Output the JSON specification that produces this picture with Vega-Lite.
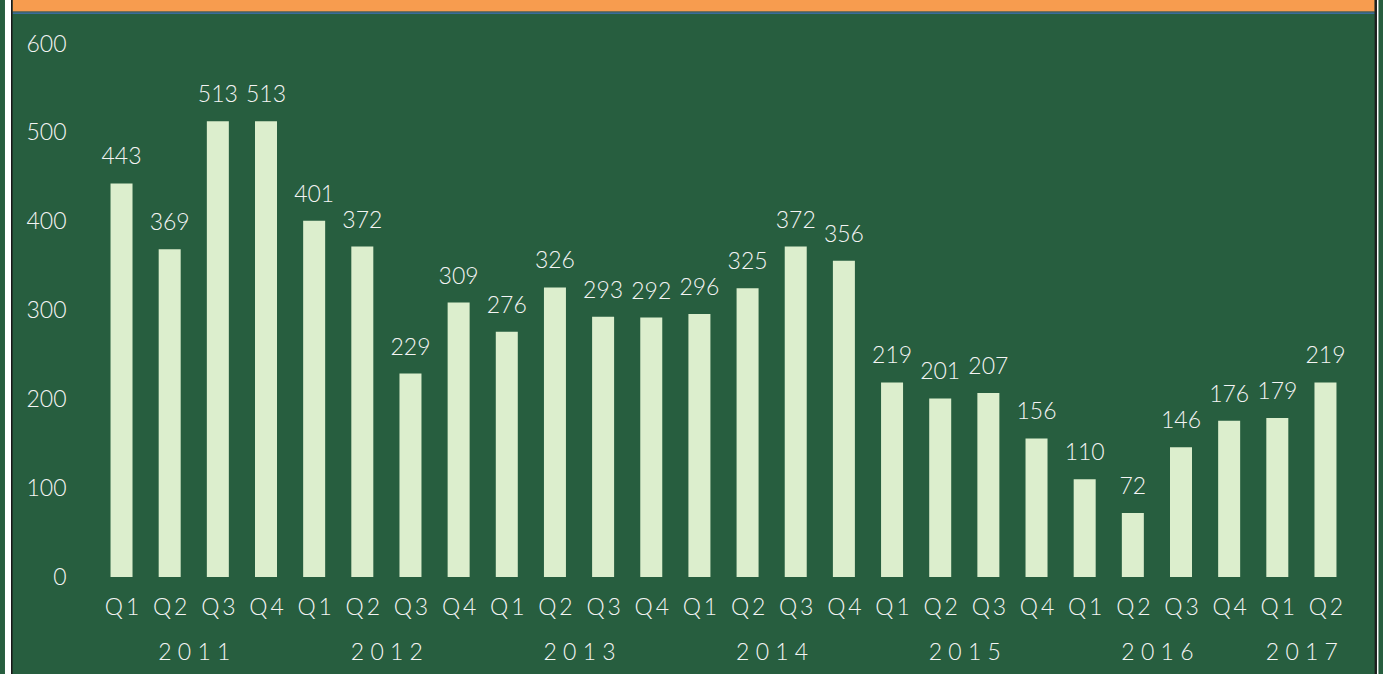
{
  "$schema": "https://vega.github.io/schema/vega-lite/v6.json",
  "width": 1291,
  "height": 533,
  "autosize": {"type": "none"},
  "padding": {"left": 78, "top": 44, "right": 14, "bottom": 97},
  "background": "#275E3F",
  "config": {
    "view": {"stroke": null},
    "font": "Lato",
    "axis": {"grid": false, "ticks": false, "domain": false, "title": null, "labelFont": "Lato", "labelFontWeight": 300, "labelFontSize": 23, "labelColor": "#F4F4F4"}
  },
  "datasets": {
    "sales": [
      {"i": 0, "year": "2011", "quarter": "Q1", "value": 443},
      {"i": 1, "year": "2011", "quarter": "Q2", "value": 369},
      {"i": 2, "year": "2011", "quarter": "Q3", "value": 513},
      {"i": 3, "year": "2011", "quarter": "Q4", "value": 513},
      {"i": 4, "year": "2012", "quarter": "Q1", "value": 401},
      {"i": 5, "year": "2012", "quarter": "Q2", "value": 372},
      {"i": 6, "year": "2012", "quarter": "Q3", "value": 229},
      {"i": 7, "year": "2012", "quarter": "Q4", "value": 309},
      {"i": 8, "year": "2013", "quarter": "Q1", "value": 276},
      {"i": 9, "year": "2013", "quarter": "Q2", "value": 326},
      {"i": 10, "year": "2013", "quarter": "Q3", "value": 293},
      {"i": 11, "year": "2013", "quarter": "Q4", "value": 292},
      {"i": 12, "year": "2014", "quarter": "Q1", "value": 296},
      {"i": 13, "year": "2014", "quarter": "Q2", "value": 325},
      {"i": 14, "year": "2014", "quarter": "Q3", "value": 372},
      {"i": 15, "year": "2014", "quarter": "Q4", "value": 356},
      {"i": 16, "year": "2015", "quarter": "Q1", "value": 219},
      {"i": 17, "year": "2015", "quarter": "Q2", "value": 201},
      {"i": 18, "year": "2015", "quarter": "Q3", "value": 207},
      {"i": 19, "year": "2015", "quarter": "Q4", "value": 156},
      {"i": 20, "year": "2016", "quarter": "Q1", "value": 110},
      {"i": 21, "year": "2016", "quarter": "Q2", "value": 72},
      {"i": 22, "year": "2016", "quarter": "Q3", "value": 146},
      {"i": 23, "year": "2016", "quarter": "Q4", "value": 176},
      {"i": 24, "year": "2017", "quarter": "Q1", "value": 179},
      {"i": 25, "year": "2017", "quarter": "Q2", "value": 219}
    ],
    "frame": [{"part": "frame"}]
  },
  "layer": [
    {
      "data": {"name": "frame"},
      "mark": {"type": "rect", "color": "#F79C4F"},
      "encoding": {
        "x": {"datum": -2.263, "type": "quantitative", "scale": {"domain": [-0.8, 25.8], "nice": false, "zero": false}, "axis": null},
        "x2": {"datum": 26.021},
        "y": {"datum": 636.6, "type": "quantitative", "scale": {"domain": [0, 600], "nice": false}, "axis": {"values": [0, 100, 200, 300, 400, 500, 600], "labelPadding": 12, "labelFlush": false}},
        "y2": {"datum": 649.6}
      }
    },
    {
      "data": {"name": "frame"},
      "mark": {"type": "rect", "color": "#5E5E5E"},
      "encoding": {
        "x": {"datum": -2.263, "type": "quantitative", "scale": {"domain": [-0.8, 25.8], "nice": false, "zero": false}, "axis": null},
        "x2": {"datum": 26.021},
        "y": {"datum": 635.5, "type": "quantitative", "scale": {"domain": [0, 600], "nice": false}, "axis": {"values": [0, 100, 200, 300, 400, 500, 600], "labelPadding": 12, "labelFlush": false}},
        "y2": {"datum": 636.6}
      }
    },
    {
      "data": {"name": "frame"},
      "mark": {"type": "rect", "color": "#3A6C9C"},
      "encoding": {
        "x": {"datum": -2.263, "type": "quantitative", "scale": {"domain": [-0.8, 25.8], "nice": false, "zero": false}, "axis": null},
        "x2": {"datum": 26.021},
        "y": {"datum": 633.8, "type": "quantitative", "scale": {"domain": [0, 600], "nice": false}, "axis": {"values": [0, 100, 200, 300, 400, 500, 600], "labelPadding": 12, "labelFlush": false}},
        "y2": {"datum": 635.5}
      }
    },
    {
      "data": {"name": "frame"},
      "mark": {"type": "rect", "color": "#FFFFFF"},
      "encoding": {
        "x": {"datum": -2.42, "type": "quantitative", "scale": {"domain": [-0.8, 25.8], "nice": false, "zero": false}, "axis": null},
        "x2": {"datum": -2.295},
        "y": {"datum": -115, "type": "quantitative", "scale": {"domain": [0, 600], "nice": false}, "axis": {"values": [0, 100, 200, 300, 400, 500, 600], "labelPadding": 12, "labelFlush": false}},
        "y2": {"datum": 655}
      }
    },
    {
      "data": {"name": "frame"},
      "mark": {"type": "rect", "color": "#1A1A1A"},
      "encoding": {
        "x": {"datum": -2.295, "type": "quantitative", "scale": {"domain": [-0.8, 25.8], "nice": false, "zero": false}, "axis": null},
        "x2": {"datum": -2.263},
        "y": {"datum": -115, "type": "quantitative", "scale": {"domain": [0, 600], "nice": false}, "axis": {"values": [0, 100, 200, 300, 400, 500, 600], "labelPadding": 12, "labelFlush": false}},
        "y2": {"datum": 655}
      }
    },
    {
      "data": {"name": "frame"},
      "mark": {"type": "rect", "color": "#FFFFFF"},
      "encoding": {
        "x": {"datum": 26.068, "type": "quantitative", "scale": {"domain": [-0.8, 25.8], "nice": false, "zero": false}, "axis": null},
        "x2": {"datum": 26.1},
        "y": {"datum": -115, "type": "quantitative", "scale": {"domain": [0, 600], "nice": false}, "axis": {"values": [0, 100, 200, 300, 400, 500, 600], "labelPadding": 12, "labelFlush": false}},
        "y2": {"datum": 655}
      }
    },
    {
      "data": {"name": "frame"},
      "mark": {"type": "rect", "color": "#1E1E1E"},
      "encoding": {
        "x": {"datum": 26.021, "type": "quantitative", "scale": {"domain": [-0.8, 25.8], "nice": false, "zero": false}, "axis": null},
        "x2": {"datum": 26.068},
        "y": {"datum": -115, "type": "quantitative", "scale": {"domain": [0, 600], "nice": false}, "axis": {"values": [0, 100, 200, 300, 400, 500, 600], "labelPadding": 12, "labelFlush": false}},
        "y2": {"datum": 655}
      }
    },
    {
      "data": {"name": "sales"},
      "mark": {"type": "bar", "width": 22, "color": "#DCEECD"},
      "encoding": {
        "x": {
          "field": "i", "type": "quantitative",
          "scale": {"domain": [-0.8, 25.8], "nice": false, "zero": false},
          "axis": {"orient": "bottom", "values": [0,1,2,3,4,5,6,7,8,9,10,11,12,13,14,15,16,17,18,19,20,21,22,23,24,25], "labelExpr": "'Q\u2009' + (datum.value % 4 + 1)", "labelPadding": 19, "labelFlush": false, "labelOverlap": false}
        },
        "y": {
          "field": "value", "type": "quantitative",
          "scale": {"domain": [0, 600], "nice": false},
          "axis": {"values": [0, 100, 200, 300, 400, 500, 600], "labelPadding": 12, "labelFlush": false}
        }
      }
    },
    {
      "data": {"name": "sales"},
      "mark": {"type": "text", "baseline": "alphabetic", "dy": -19, "fontSize": 23, "font": "Lato", "fontWeight": 300, "color": "#F4F4F4"},
      "encoding": {
        "x": {
          "field": "i", "type": "quantitative",
          "scale": {"domain": [-0.8, 25.8], "nice": false, "zero": false},
          "axis": {"orient": "bottom", "offset": 45, "values": [1.5, 5.5, 9.5, 13.5, 17.5, 21.5, 24.5], "labelExpr": "join(split('' + (2011 + floor(datum.value / 4)), ''), ' ')", "labelPadding": 19, "labelFlush": false, "labelOverlap": false}
        },
        "y": {"field": "value", "type": "quantitative", "scale": {"domain": [0, 600], "nice": false}, "axis": {"values": [0, 100, 200, 300, 400, 500, 600], "labelPadding": 12, "labelFlush": false}},
        "text": {"field": "value", "type": "quantitative"}
      }
    }
  ],
  "resolve": {"axis": {"x": "independent"}}
}
